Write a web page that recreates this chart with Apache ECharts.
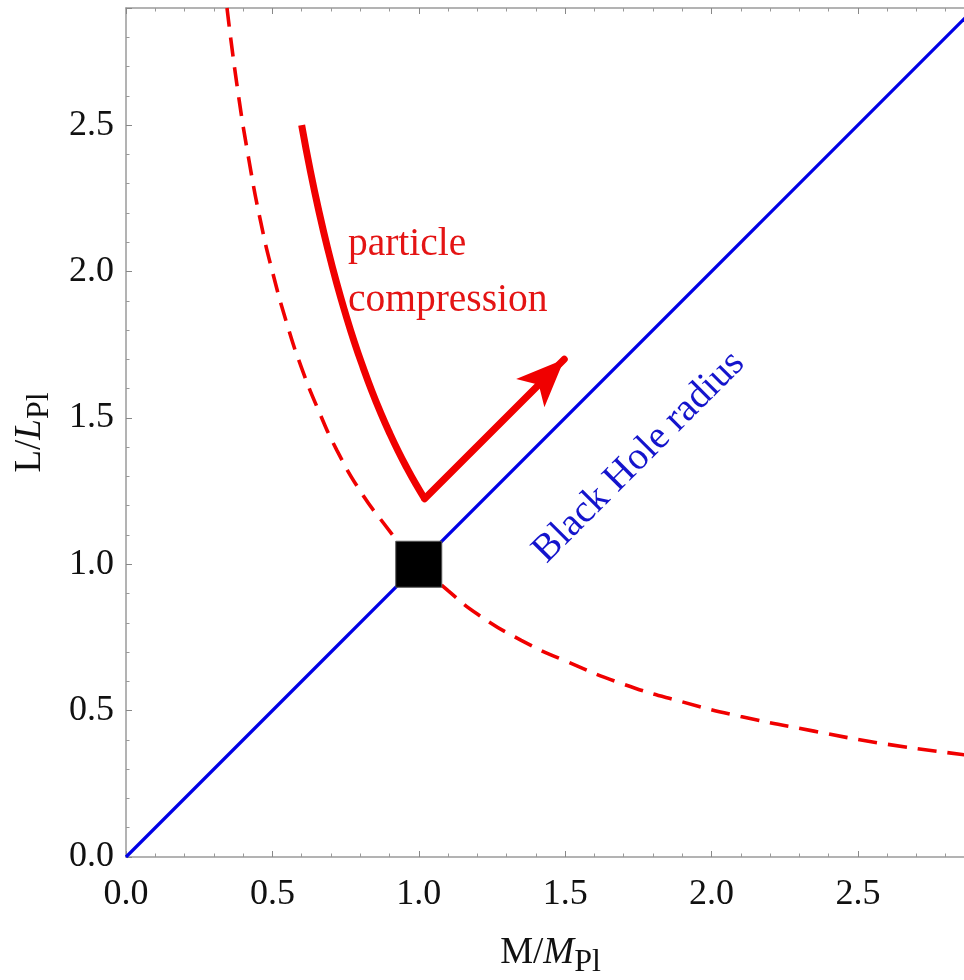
<!DOCTYPE html>
<html>
<head>
<meta charset="utf-8">
<title>Planck scale</title>
<script src="https://cdn.jsdelivr.net/npm/echarts@6/dist/echarts.min.js"></script>
<style>
  html, body { margin: 0; padding: 0; background: #fff; }
  #chart { width: 964px; height: 980px; }
</style>
</head>
<body>
<div id="chart"></div>
<script>
// axis range / ticks
const axisMax = 2.9;
const tickStep = 0.5;

// black hole radius, L = M
const bhRadius = [[0, 0], [2.9, 2.9]];

// compton wavelength (dashed)
const comptonX = [0.345, 0.38, 0.42, 0.46, 0.5, 0.55, 0.6, 0.66, 0.72, 0.8, 0.88, 0.96, 1.0, 1.1, 1.2, 1.35, 1.5, 1.7, 1.9, 2.1, 2.35, 2.6, 2.9];
const comptonY = [2.9, 2.63, 2.38, 2.17, 2.0, 1.82, 1.67, 1.52, 1.39, 1.25, 1.14, 1.04, 1.0, 0.91, 0.83, 0.74, 0.67, 0.59, 0.53, 0.48, 0.43, 0.385, 0.345];

// thick "particle compression" path down to the corner
const squeezeX = [0.60, 0.63, 0.66, 0.69, 0.72, 0.75, 0.78, 0.81, 0.84, 0.87, 0.90, 0.93, 0.96, 0.99, 1.02];
const squeezeY = [2.500, 2.342, 2.201, 2.074, 1.959, 1.855, 1.759, 1.672, 1.591, 1.517, 1.449, 1.386, 1.328, 1.274, 1.224];

// arrow after the corner (to = arrow tip)
const arrowFrom = [1.02, 1.224];
const arrowTo = [1.497, 1.70];

// planck point
const planckPoint = [[1, 1]];

const serif = "'Liberation Serif', 'DejaVu Serif', serif";
const red = '#f00000';
const blue = '#0000e6';

const comptonData = comptonX.map((x, i) => [x, comptonY[i]]);
const squeezeData = squeezeX.map((x, i) => [x, squeezeY[i]]);

const chart = echarts.init(document.getElementById('chart'), null, { renderer: 'canvas' });

const axisLineStyle = { color: '#9a9a9a', width: 1.5 };

function baseAxis(extra) {
  return Object.assign({
    type: 'value',
    min: 0,
    max: axisMax,
    interval: tickStep,
    splitLine: { show: false },
    axisLine: { show: true, onZero: false, lineStyle: axisLineStyle },
    axisTick: { show: true, inside: true, length: 6, lineStyle: { color: '#888', width: 1 } },
    minorTick: { show: true, splitNumber: 5, length: 3.5, lineStyle: { color: '#999', width: 1 } },
  }, extra);
}

const nameRich = {
  a: { fontFamily: serif, fontSize: 37, color: '#111', lineHeight: 44, verticalAlign: 'top' },
  i: { fontFamily: serif, fontSize: 37, color: '#111', fontStyle: 'italic', lineHeight: 44, verticalAlign: 'top' },
  s: { fontFamily: serif, fontSize: 32, color: '#111', lineHeight: 30, verticalAlign: 'bottom' },
};

const tickLabel = {
  fontFamily: serif,
  fontSize: 36,
  color: '#111',
  showMaxLabel: false,
  formatter: (v) => v.toFixed(1),
};

const option = {
  backgroundColor: '#fff',
  animation: false,
  grid: { left: 126, right: -11, top: 8, bottom: 123, containLabel: false, outerBoundsMode: 'none' },
  xAxis: [
    baseAxis({
      position: 'bottom',
      axisLabel: Object.assign({ margin: 20 }, tickLabel),
      name: '{a|M/}{i|M}{s|Pl}',
      nameLocation: 'middle',
      nameGap: 78,
      nameTextStyle: { rich: nameRich },
    }),
    baseAxis({ position: 'top', axisLabel: { show: false } }),
  ],
  yAxis: [
    baseAxis({
      position: 'left',
      axisLabel: Object.assign({ margin: 12 }, tickLabel),
      name: '{a|L/}{i|L}{s|Pl}',
      nameLocation: 'middle',
      nameRotate: 90,
      nameGap: 70,
      nameTextStyle: { rich: nameRich },
    }),
  ],
  series: [
    {
      name: 'Black Hole radius',
      type: 'line',
      data: bhRadius,
      symbol: 'none',
      lineStyle: { color: blue, width: 3.2 },
      z: 2,
    },
    {
      name: 'compton',
      type: 'line',
      data: comptonData,
      smooth: true,
      symbol: 'none',
      lineStyle: { color: red, width: 3.6, type: [19, 11] },
      z: 2,
    },
    {
      name: 'compression',
      type: 'line',
      data: squeezeData,
      smooth: true,
      symbol: 'none',
      lineStyle: { color: red, width: 7, cap: 'butt' },
      z: 3,
      markLine: {
        silent: true,
        symbol: ['none', 'arrow'],
        label: { show: false },
        lineStyle: { color: red, width: 7, type: 'solid', cap: 'round' },
        emphasis: { disabled: true },
        data: [[
          { coord: arrowFrom, symbol: 'none' },
          { coord: arrowTo, symbol: 'arrow', symbolSize: [30, 48] },
        ]],
      },
    },
    {
      name: 'planck',
      type: 'scatter',
      data: planckPoint,
      symbol: 'rect',
      symbolSize: 46,
      itemStyle: { color: '#000', borderColor: '#555', borderWidth: 1, opacity: 1 },
      z: 5,
    },
    {
      // text labels anchored in data space
      name: 'labels',
      type: 'scatter',
      symbolSize: 0,
      silent: true,
      itemStyle: { opacity: 1 },
      z: 6,
      data: [
        {
          value: [0.758, 1.995],
          label: {
            show: true,
            position: 'inside',
            align: 'left',
            verticalAlign: 'middle',
            formatter: 'particle\ncompression',
            fontFamily: serif,
            fontSize: 39.5,
            lineHeight: 56,
            color: '#e41414',
          },
        },
        {
          value: [1.752, 1.366],
          label: {
            show: true,
            position: 'inside',
            align: 'center',
            verticalAlign: 'middle',
            rotate: 45,
            formatter: 'Black Hole radius',
            fontFamily: serif,
            fontSize: 39,
            color: '#1414cc',
          },
        },
      ],
    },
  ],
};

chart.setOption(option);
</script>
</body>
</html>
